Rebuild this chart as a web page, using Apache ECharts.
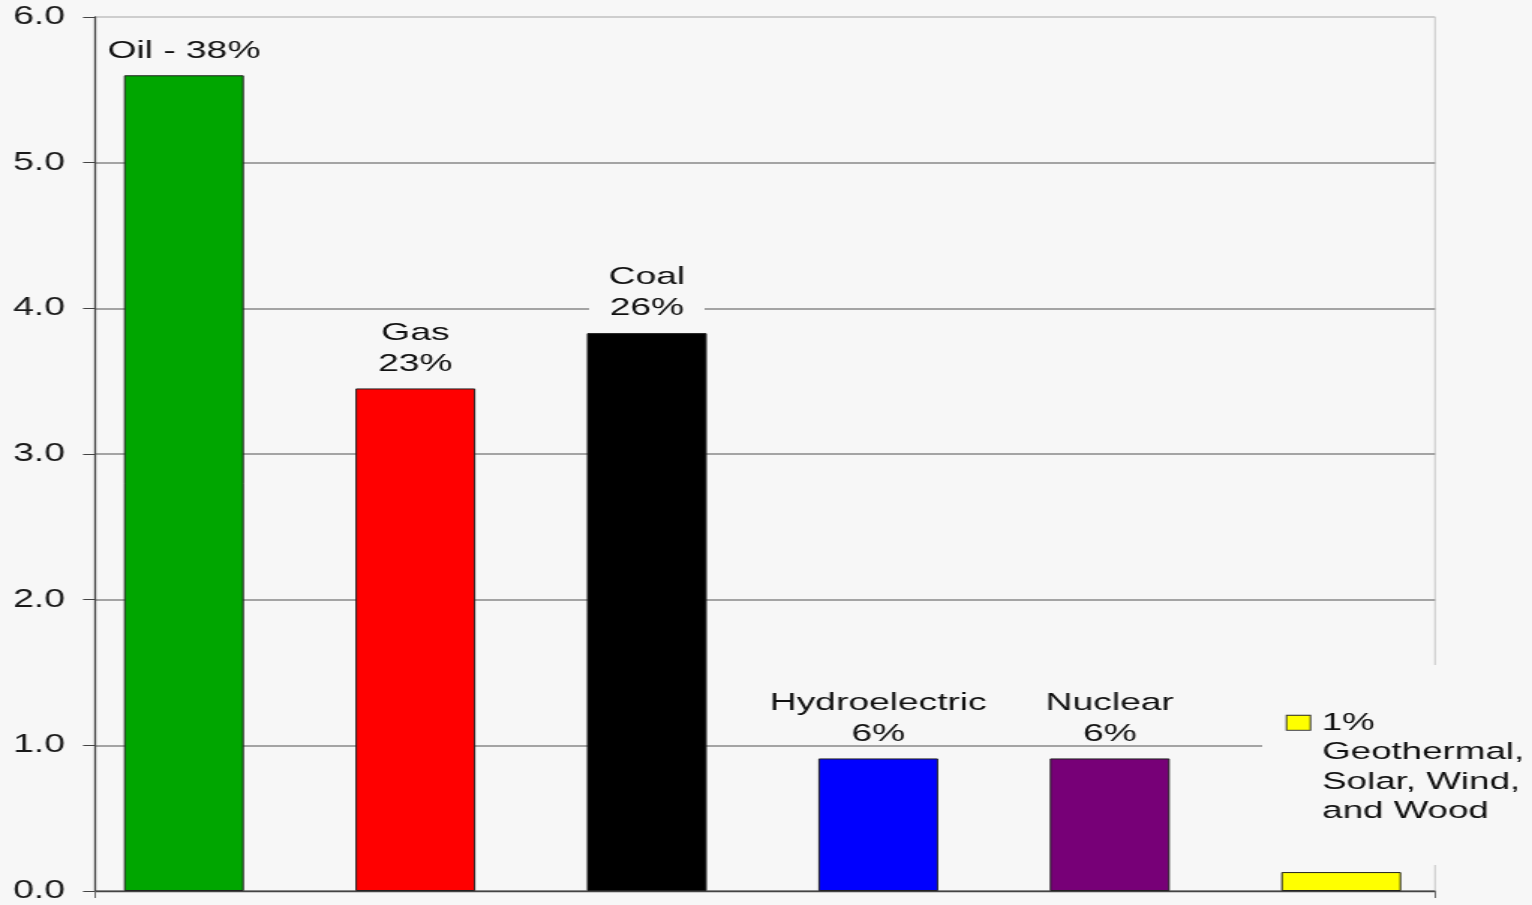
<!DOCTYPE html>
<html>
<head>
<meta charset="utf-8">
<script src="https://cdn.jsdelivr.net/npm/echarts@6/dist/echarts.min.js"></script>
<style>
html,body{margin:0;padding:0;background:#f7f7f7;overflow:hidden;}
#c{width:1022px;height:905px;transform:scaleX(1.49902);transform-origin:0 0;}
</style>
</head>
<body>
<div id="c"></div>
<script>
// ---- data ----
const categories = ['Oil', 'Gas', 'Coal', 'Hydroelectric', 'Nuclear', 'Geothermal, Solar, Wind, and Wood'];
const shares = ['38%', '23%', '26%', '6%', '6%', '1%'];
const values = [5.6, 3.45, 3.83, 0.91, 0.91, 0.13];
const yTicks = [0, 1, 2, 3, 4, 5, 6];

// ---- styles ----
const barColors = ['#00a600', '#ff0000', '#000000', '#0000ff', '#770077', '#ffff00'];
const FONT = '"Liberation Sans", Arial, sans-serif';

const chart = echarts.init(document.getElementById('c'), null, {renderer: 'canvas'});

const data = values.map((v, i) => {
  const item = {value: v, name: categories[i], itemStyle: {color: barColors[i]}};
  if (i === 5) {
    item.label = {
      position: 'top',
      align: 'left',
      distance: 7,
      offset: [-52.7, 0],
      backgroundColor: '#f7f7f7',
      padding: [43, 12, 39, 16.7],
      formatter: '{sw|}{a|' + shares[i] + '}\n{b|Geothermal,}\n{b|Solar, Wind,}\n{b|and Wood}',
      rich: {
        sw: {width: 15, height: 14, backgroundColor: barColors[5], borderColor: '#333', borderWidth: 1, lineHeight: 29.5},
        a: {fontFamily: FONT, fontSize: 24.5, color: '#111', lineHeight: 29.5, padding: [0, 0, 0, 8]},
        b: {fontFamily: FONT, fontSize: 24.5, color: '#111', lineHeight: 29.5, padding: [0, 0, 0, 23.3]}
      }
    };
  } else if (i === 2) {
    // label box masks the grid line behind it
    item.label = {backgroundColor: '#f7f7f7', padding: [0, 13, 0, 13]};
  }
  return item;
});

const option = {
  backgroundColor: '#f7f7f7',
  animation: false,
  grid: [
    {left: 63.4, right: 64.7, top: 17, bottom: 14, show: true, borderColor: '#c8c8c8', borderWidth: 1, backgroundColor: 'transparent'},
    {left: 45.5, right: 50.1, top: 17, bottom: 14}
  ],
  xAxis: [
    {gridIndex: 0, type: 'value', min: 0, max: 1, interval: 1,
     axisLine: {show: true, onZero: false, lineStyle: {color: '#444', width: 1.3}},
     axisTick: {show: true, length: 7, lineStyle: {color: '#666'}},
     axisLabel: {show: false}, splitLine: {show: false}},
    {gridIndex: 1, type: 'category', data: categories, boundaryGap: true,
     axisLine: {show: false}, axisTick: {show: false}, axisLabel: {show: false}}
  ],
  yAxis: [
    {gridIndex: 0, type: 'value', min: yTicks[0], max: yTicks[yTicks.length - 1], interval: 1,
     axisLine: {show: true, lineStyle: {color: '#444', width: 1.3}},
     axisTick: {show: true, length: 8, lineStyle: {color: '#444', width: 1}},
     axisLabel: {fontFamily: FONT, fontSize: 25, color: '#1a1a1a', margin: 20,
                 formatter: v => v.toFixed(1)},
     splitLine: {show: true, lineStyle: {color: ['#888', '#888', '#888', '#888', '#888', '#888', '#c8c8c8'], width: 1.5}}},
    {gridIndex: 1, type: 'value', min: 0, max: 6, show: false, splitLine: {show: false}}
  ],
  series: [{
    type: 'bar',
    xAxisIndex: 1,
    yAxisIndex: 1,
    barWidth: 80,
    data: data,
    itemStyle: {borderColor: '#222', borderWidth: 1},
    label: {
      show: true,
      position: 'top',
      distance: 9,
      fontFamily: FONT,
      fontSize: 24.8,
      lineHeight: 31,
      color: '#111',
      formatter: p => p.dataIndex === 0 ? p.name + ' - ' + shares[p.dataIndex] : p.name + '\n' + shares[p.dataIndex]
    }
  }]
};
chart.setOption(option);
</script>
</body>
</html>
